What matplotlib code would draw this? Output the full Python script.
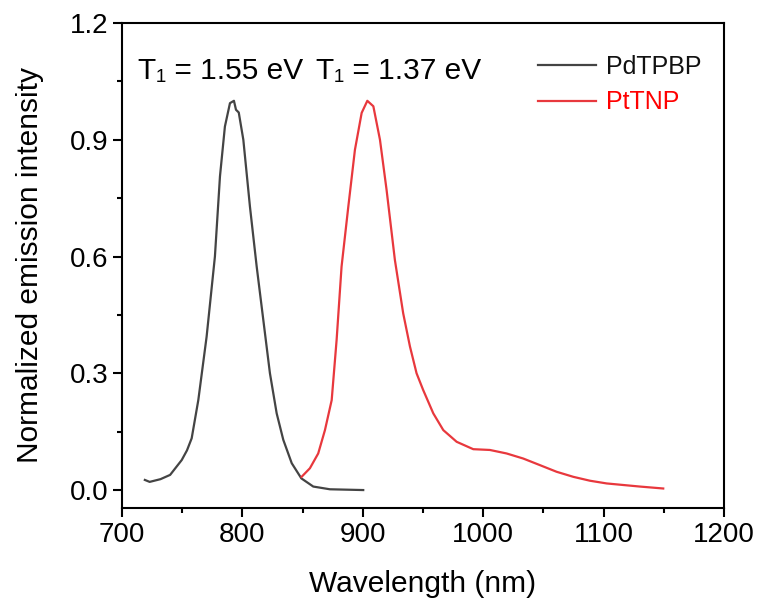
import matplotlib.pyplot as plt
from matplotlib.ticker import MultipleLocator

plt.rcParams['font.family'] = ['Liberation Sans', 'DejaVu Sans']

# PdTPBP emission
pd_wl = [719, 723, 732, 740, 749.6, 754, 757.9, 763.4, 770.3, 777.2, 781.4, 785.5, 789.7, 793, 794.7,
         797, 800.8, 806.3, 811.9, 817.4, 822.9, 828.5, 834, 841, 849, 858.9, 872.7, 900.4]
pd_int = [0.026, 0.021, 0.028, 0.039, 0.077, 0.102, 0.133, 0.231, 0.394, 0.600, 0.806, 0.934, 0.994, 1.0, 0.977,
          0.97, 0.90, 0.728, 0.574, 0.437, 0.300, 0.197, 0.129, 0.069, 0.030, 0.009, 0.002, 0.0]

# PtTNP emission
pt_wl = [849.2, 856.1, 863, 868.6, 874.2, 878.3, 882.4, 888, 893.5, 899.1, 903.8, 908.8, 914.3,
         919.8, 926.7, 933.6, 939.2, 944.7, 950.2, 958.6, 966.9, 978, 991.8, 1005.6, 1019.5,
         1033.3, 1047.2, 1061, 1074.9, 1088.7, 1102.6, 1116.4, 1130.2, 1149.6]
pt_int = [0.034, 0.056, 0.094, 0.154, 0.231, 0.386, 0.574, 0.728, 0.874, 0.969, 1.0, 0.986, 0.90,
          0.771, 0.591, 0.454, 0.369, 0.300, 0.257, 0.197, 0.154, 0.124, 0.105, 0.103, 0.094,
          0.081, 0.064, 0.047, 0.034, 0.024, 0.017, 0.013, 0.009, 0.004]

labels = ['PdTPBP', 'PtTNP']
line_colors = ['#444444', '#e8383d']
text_colors = ['#111111', '#ff0000']

fig = plt.figure(figsize=(7.6, 6.04), dpi=100)
ax = fig.add_axes([0.1605, 0.159, 0.792, 0.803])

ax.plot(pd_wl, pd_int, color=line_colors[0], lw=1.6, label=labels[0])
ax.plot(pt_wl, pt_int, color=line_colors[1], lw=1.6, label=labels[1])

ax.set_xlim(700, 1200)
ax.set_ylim(-0.046, 1.2)
ax.xaxis.set_major_locator(MultipleLocator(100))
ax.xaxis.set_minor_locator(MultipleLocator(50))
ax.yaxis.set_major_locator(MultipleLocator(0.3))
ax.yaxis.set_minor_locator(MultipleLocator(0.15))
ax.yaxis.set_major_formatter(plt.FuncFormatter(lambda v, p: f'{v:.1f}'))

for s in ax.spines.values():
    s.set_linewidth(1.5)
ax.tick_params(which='major', direction='out', length=6.5, width=1.5, labelsize=20)
ax.tick_params(which='minor', direction='out', length=3.5, width=1.5)

ax.set_xlabel('Wavelength (nm)', fontsize=21.5, labelpad=16)
ax.set_ylabel('Normalized emission intensity', fontsize=21.5, labelpad=18)

ax.text(0.027, 0.9, 'T\u2081 = 1.55 eV', transform=ax.transAxes, fontsize=21.5, va='center')
ax.text(0.323, 0.9, 'T\u2081 = 1.37 eV', transform=ax.transAxes, fontsize=21.5, va='center')

leg = ax.legend(loc='upper right', bbox_to_anchor=(1.0, 0.98), frameon=False, fontsize=18,
                handlelength=2.3, handletextpad=0.4, labelspacing=0.45, labelcolor=text_colors)

fig.savefig('out.png', dpi=100)
